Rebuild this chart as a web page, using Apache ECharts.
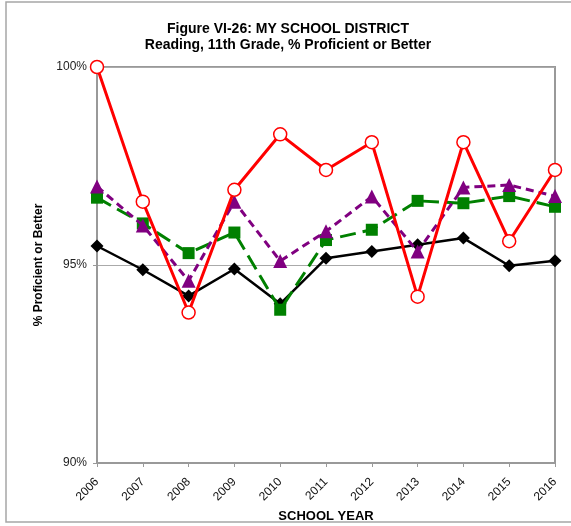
<!DOCTYPE html>
<html>
<head>
<meta charset="utf-8">
<script src="https://cdn.jsdelivr.net/npm/echarts@6/dist/echarts.min.js"></script>
<style>
  html, body { margin: 0; padding: 0; background: #fff; }
  #chart { width: 571px; height: 526px; }
</style>
</head>
<body>
<div id="chart"></div>
<script>
// School years on the horizontal axis
const years = ['2006', '2007', '2008', '2009', '2010', '2011', '2012', '2013', '2014', '2015', '2016'];

// Percent proficient or better, by group
const seriesRed    = [100.0, 96.6, 93.8, 96.9, 98.3, 97.4, 98.1, 94.2, 98.1, 95.6, 97.4];
const seriesPurple = [96.98, 96.0, 94.6, 96.6, 95.1, 95.85, 96.73, 95.34, 96.96, 97.02, 96.74];
const seriesGreen  = [96.7, 96.05, 95.3, 95.82, 93.87, 95.63, 95.89, 96.62, 96.56, 96.74, 96.47];
const seriesBlack  = [95.48, 94.88, 94.22, 94.9, 94.02, 95.17, 95.34, 95.51, 95.68, 94.98, 95.11];

// Value-axis range
const yMin = 90, yMax = 100, yStep = 5;

const chart = echarts.init(document.getElementById('chart'), null, { renderer: 'canvas' });

const font = 'Arial, "Liberation Sans", sans-serif';

chart.setOption({
  backgroundColor: '#ffffff',
  animation: false,
  graphic: [{
    type: 'rect',
    shape: { x: 6, y: 2, width: 620, height: 520 },
    style: { fill: 'none', stroke: '#a6a6a6', lineWidth: 1.5 },
    silent: true,
    z: -1
  }],
  title: {
    text: 'Figure VI-26: MY SCHOOL DISTRICT\nReading, 11th Grade, % Proficient or Better',
    left: 283,
    textAlign: 'center',
    top: 16,
    textStyle: { fontFamily: font, fontSize: 14, fontWeight: 'bold', color: '#000', lineHeight: 16 }
  },
  grid: {
    left: 97, right: 16, top: 67, bottom: 63,
    outerBoundsMode: 'none',
    show: true, borderColor: '#999', borderWidth: 2
  },
  xAxis: {
    type: 'category',
    data: years,
    boundaryGap: false,
    name: 'SCHOOL YEAR',
    nameLocation: 'middle',
    nameGap: 44,
    nameTextStyle: { fontFamily: font, fontSize: 13, fontWeight: 'bold', color: '#000' },
    axisLine: { lineStyle: { color: '#999', width: 2 } },
    axisTick: { show: true, alignWithLabel: true, length: 4, lineStyle: { color: '#999' } },
    axisLabel: { rotate: 45, margin: 17, fontFamily: font, fontSize: 12, color: '#111', interval: 0 },
    splitLine: { show: false }
  },
  yAxis: {
    type: 'value',
    min: yMin,
    max: yMax,
    interval: yStep,
    name: '% Proficient or Better',
    nameLocation: 'middle',
    nameGap: 52,
    nameTextStyle: { fontFamily: font, fontSize: 12, fontWeight: 'bold', color: '#000' },
    axisLine: { show: true, lineStyle: { color: '#999', width: 2 } },
    axisTick: { show: true, length: 4, lineStyle: { color: '#999' } },
    axisLabel: { formatter: '{value}%', margin: 10, fontFamily: font, fontSize: 12, color: '#222' },
    splitLine: { show: true, lineStyle: { color: '#aaa', width: 1 } }
  },
  series: [
    {
      name: 'Black', type: 'line', data: seriesBlack, z: 2,
      symbol: 'diamond', symbolSize: 13,
      itemStyle: { color: '#000' },
      lineStyle: { color: '#000', width: 2.5 }
    },
    {
      name: 'Green', type: 'line', data: seriesGreen, z: 3,
      symbol: 'rect', symbolSize: 12,
      itemStyle: { color: '#008000' },
      lineStyle: { color: '#008000', width: 3, type: [16, 7] }
    },
    {
      name: 'Purple', type: 'line', data: seriesPurple, z: 4,
      symbol: 'triangle', symbolSize: 14,
      itemStyle: { color: '#800080' },
      lineStyle: { color: '#800080', width: 3, type: [8, 5] }
    },
    {
      name: 'Red', type: 'line', data: seriesRed, z: 5,
      symbol: 'circle', symbolSize: 13,
      itemStyle: { color: '#fff', borderColor: '#ff0000', borderWidth: 1.5 },
      lineStyle: { color: '#ff0000', width: 3 }
    }
  ]
});
</script>
</body>
</html>
